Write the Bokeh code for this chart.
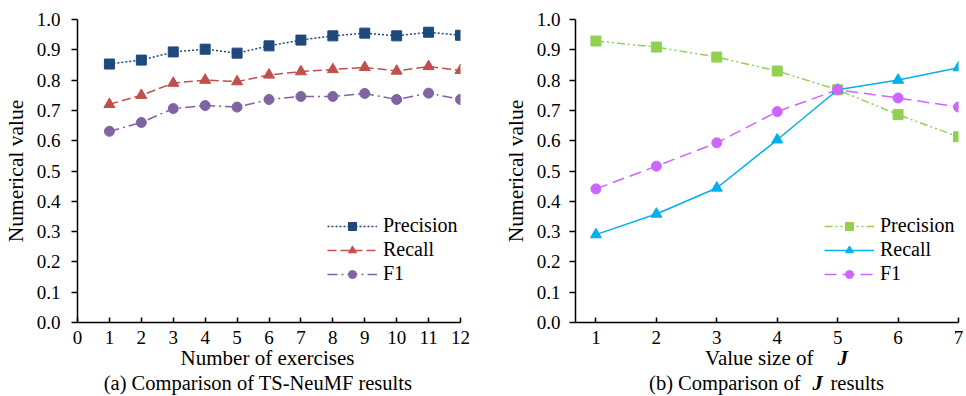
import math
from bokeh.plotting import figure
from bokeh.layouts import row, column
from bokeh.models import Range1d, FixedTicker, Legend, LegendItem, NumeralTickFormatter
from bokeh.core.properties import value
from bokeh.embed import file_html
from bokeh.resources import INLINE

# ---- data (a) ----
exercises = [1, 2, 3, 4, 5, 6, 7, 8, 9, 10, 11, 12]
precision_a = [0.853, 0.866, 0.893, 0.902, 0.889, 0.913, 0.932, 0.946, 0.955, 0.946, 0.958, 0.948]
recall_a = [0.720, 0.750, 0.790, 0.800, 0.795, 0.817, 0.828, 0.835, 0.842, 0.830, 0.845, 0.832]
f1_a = [0.631, 0.660, 0.706, 0.716, 0.711, 0.736, 0.746, 0.746, 0.756, 0.736, 0.757, 0.736]
x_ticks_a = [0, 1, 2, 3, 4, 5, 6, 7, 8, 9, 10, 11, 12]

# ---- data (b) ----
j_values = [1, 2, 3, 4, 5, 6, 7]
precision_b = [0.929, 0.909, 0.876, 0.830, 0.768, 0.686, 0.613]
recall_b = [0.290, 0.358, 0.444, 0.603, 0.768, 0.800, 0.841]
f1_b = [0.441, 0.516, 0.593, 0.696, 0.768, 0.741, 0.711]

y_ticks = [0.0, 0.1, 0.2, 0.3, 0.4, 0.5, 0.6, 0.7, 0.8, 0.9, 1.0]

FONT = "Liberation Serif"
FS = "19px"
TOP_H = 19 + 303 + 40      # total height of the plot figures
CAP_TOP = 340              # where the caption strip begins (overlaps transparently)
CAP_H = 396 - CAP_TOP
SHIFT = 8                  # empirical baseline correction


def make_fig(xr, xticks, bl, br, ylab_standoff):
    p = figure(frame_width=383, frame_height=303, x_range=xr, y_range=Range1d(0, 1),
               output_backend="svg", toolbar_location=None,
               min_border_left=bl, min_border_right=br, min_border_top=19, min_border_bottom=40)
    p.outline_line_color = None
    p.grid.visible = False
    p.background_fill_color = "white"
    for ax in (p.xaxis[0], p.yaxis[0]):
        ax.axis_line_color = "black"
        ax.axis_line_width = 1.5
        ax.major_tick_line_color = "black"
        ax.major_tick_line_width = 1.5
        ax.minor_tick_line_color = None
        ax.major_label_text_font = FONT
        ax.major_label_text_font_size = FS
        ax.major_label_text_color = "black"
    p.xaxis.ticker = FixedTicker(ticks=xticks)
    p.xaxis.major_tick_in = 5
    p.xaxis.major_tick_out = 0
    p.xaxis.major_label_standoff = 8
    p.yaxis.ticker = FixedTicker(ticks=y_ticks)
    p.yaxis.formatter = NumeralTickFormatter(format="0.0")
    p.yaxis.major_tick_in = 0
    p.yaxis.major_tick_out = 6
    p.yaxis.major_label_standoff = ylab_standoff
    p.yaxis.axis_label = "Numerical value"
    p.yaxis.axis_label_text_font = FONT
    p.yaxis.axis_label_text_font_size = "21.5px"
    p.yaxis.axis_label_text_font_style = "normal"
    p.yaxis.axis_label_text_color = "black"
    p.yaxis.axis_label_standoff = 6
    return p


def cap_fig():
    c = figure(width=483, height=CAP_H, x_range=Range1d(0, 483), y_range=Range1d(CAP_H, 0),
               output_backend="svg", toolbar_location=None, x_axis_type=None, y_axis_type=None,
               min_border_left=0, min_border_right=0, min_border_top=0, min_border_bottom=0)
    c.outline_line_color = None
    c.grid.visible = False
    c.background_fill_alpha = 0
    c.border_fill_alpha = 0
    return c


def txt(c, x, y, text, align="center", style="normal", size="21px"):
    c.text(x=[x], y=[y - CAP_TOP - SHIFT], text=[text], text_font=value(FONT), text_font_size=value(size),
           text_font_style=style, text_align=align, text_baseline="alphabetic", text_color="black")


def series(p, x, y, color, dash, marker, msize):
    ln = p.line(x, y, line_color=color, line_width=1.5, line_dash=dash)
    sc = p.scatter(x, y, marker=marker, size=msize, fill_color=color, line_color=color)
    return [ln, sc]


# ---- panel (a) ----
pa = make_fig(Range1d(0, 12), x_ticks_a, 77, 23, 11)
ra1 = series(pa, exercises, precision_a, "#1F497D", "2 2", "square", 10)
ra2 = series(pa, exercises, recall_a, "#C0504D", "9 4", "triangle", 11)
ra3 = series(pa, exercises, f1_a, "#8064A2", "10 4 2 4", "circle", 10)
leg_a = Legend(items=[LegendItem(label="Precision", renderers=ra1),
                      LegendItem(label="Recall", renderers=ra2),
                      LegendItem(label="F1", renderers=ra3)],
               location=(250, 37))
pa.add_layout(leg_a)

ca = cap_fig()
txt(ca, 267, 365, "Number of exercises")
txt(ca, 257.5, 390.5, "(a) Comparison of TS-NeuMF results", size="20.5px")

# ---- panel (b) ----
pb = make_fig(Range1d(0.662, 7), j_values, 92, 8, 9)
rb1 = series(pb, j_values, precision_b, "#92D050", "8 3 2 3 2 3", "square", 10)
rb2 = series(pb, j_values, recall_b, "#00B0F0", "solid", "triangle", 11)
rb3 = series(pb, j_values, f1_b, "#CC66FF", "12 6", "circle", 10)
leg_b = Legend(items=[LegendItem(label="Precision", renderers=rb1),
                      LegendItem(label="Recall", renderers=rb2),
                      LegendItem(label="F1", renderers=rb3)],
               location=(249, 37))
pb.add_layout(leg_b)

cb = cap_fig()
txt(cb, 330, 365, "Value size of", align="right")
txt(cb, 354, 365, "J", align="left", style="bold italic")
txt(cb, 317, 390.5, "(b) Comparison of", align="right", size="20.5px")
txt(cb, 329, 390.5, "J", align="left", style="bold italic", size="20.5px")
txt(cb, 347, 390.5, "results", align="left", size="20.5px")

for lg in (leg_a, leg_b):
    lg.background_fill_alpha = 0
    lg.border_line_color = None
    lg.label_text_font = FONT
    lg.label_text_font_size = "20px"
    lg.label_text_color = "black"
    lg.glyph_width = 50
    lg.glyph_height = 20
    lg.label_height = 20
    lg.label_standoff = 6
    lg.spacing = 1
    lg.padding = 0
    lg.margin = 0

top = row(pa, pb)
bottom = row(ca, cb, margin=(CAP_TOP - TOP_H, 0, 0, 0))
layout = column(top, bottom)
open("out.html", "w").write(file_html(layout, INLINE))
